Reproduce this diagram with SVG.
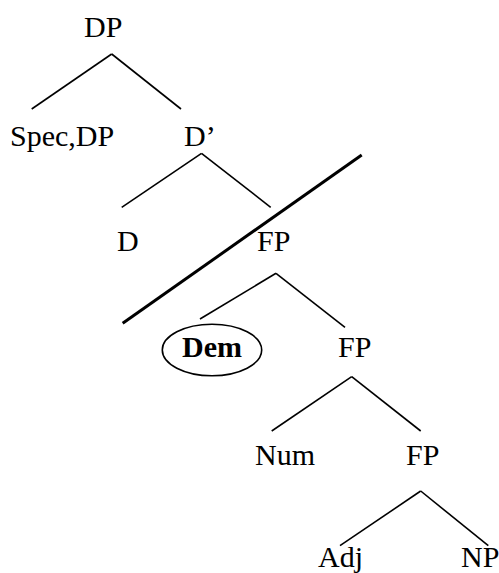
<svg xmlns="http://www.w3.org/2000/svg" width="499" height="573" viewBox="0 0 499 573">
<style>
text{font-family:"Liberation Serif","Times New Roman",serif;font-size:30px;fill:#000}
.b{font-weight:bold}
line{stroke:#000;stroke-width:1.6;stroke-linecap:butt}
.thick{stroke-width:3}
</style>
<rect width="499" height="573" fill="#fff"/>
<g id="connectors">
<line x1="111.7" y1="54" x2="31.7" y2="109"/>
<line x1="111.7" y1="54" x2="181" y2="109"/>
<line x1="201.5" y1="153.3" x2="121.7" y2="207.3"/>
<line x1="201.5" y1="153.3" x2="270.7" y2="207.3"/>
<line x1="276" y1="273.3" x2="200" y2="319"/>
<line x1="276" y1="273.3" x2="345" y2="327.3"/>
<line x1="351.7" y1="376.7" x2="271.7" y2="431"/>
<line x1="351.7" y1="376.7" x2="420.7" y2="431"/>
<line x1="420.7" y1="491" x2="340" y2="545.7"/>
<line x1="420.7" y1="491" x2="488.3" y2="545.7"/>
</g>
<g id="strike"><line class="thick" x1="361.7" y1="155" x2="122.7" y2="323.3"/></g>
<g id="n-DP"><text x="84" y="37">DP</text></g>
<g id="n-SpecDP"><text x="10" y="146">Spec,DP</text></g>
<g id="n-Dbar"><text x="184" y="146">D’</text></g>
<g id="n-D"><text x="117" y="251">D</text></g>
<g id="n-FP1"><text x="257" y="251">FP</text></g>
<g id="n-Dem"><ellipse cx="212" cy="350" rx="49.7" ry="25.7" fill="none" stroke="#000" stroke-width="1.6"/><text class="b" x="182" y="357">Dem</text></g>
<g id="n-FP2"><text x="338" y="357">FP</text></g>
<g id="n-Num"><text x="255" y="465">Num</text></g>
<g id="n-FP3"><text x="406" y="465">FP</text></g>
<g id="n-Adj"><text x="318" y="567">Adj</text></g>
<g id="n-NP"><text x="461" y="567">NP</text></g>
</svg>
